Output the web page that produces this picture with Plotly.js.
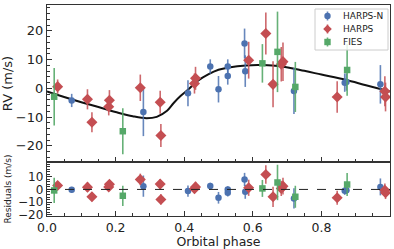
<!DOCTYPE html>
<html>
<head>
<meta charset="utf-8">
<script src="https://cdn.plot.ly/plotly-3.0.1.min.js"></script>
<style>html,body{margin:0;padding:0;background:#fff}#chart{width:394px;height:249px}</style>
</head>
<body>
<div id="chart"></div>
<script>
// HARPS-N
const hnPhase = [0.072, 0.281, 0.411, 0.476, 0.500, 0.527, 0.527, 0.576, 0.578, 0.720, 0.868, 0.873, 0.972];
const hnRV    = [-4.2, -8.2, -1.7, 7.6, -0.3, 7.6, 4.3, 15.6, 6.0, -0.9, 2.0, 2.2, 1.4];
const hnErr   = [2.3, 8.4, 4.5, 2.5, 4.6, 2.5, 3.0, 5.2, 5.5, 8.0, 3.2, 3.0, 6.7];
const hnRes   = [-0.3, 2.6, -1.3, 2.8, -6.6, 0.0, -2.6, 7.9, -1.9, -7.1, -1.1, -0.6, 2.0];
// HARPS
const hPhase = [0.031, 0.118, 0.131, 0.180, 0.182, 0.272, 0.330, 0.332, 0.430, 0.433, 0.588, 0.638, 0.659, 0.683, 0.688, 0.846, 0.985, 0.987];
const hRV    = [0.6, -3.8, -11.8, -6.4, -4.1, 0.2, -4.8, -16.4, 1.7, 3.5, 9.8, 19.1, 1.4, 8.4, 9.3, -3.0, -1.0, -3.0];
const hErr   = [2.5, 3.5, 3.5, 3.0, 3.5, 4.6, 4.0, 4.0, 3.5, 4.0, 6.4, 7.3, 8.0, 6.0, 6.7, 5.5, 5.2, 5.0];
const hRes   = [3.1, 1.8, -5.8, 2.0, 4.0, 7.9, 4.2, -7.9, 0.5, 2.0, 1.3, 11.8, -5.8, 0.8, 2.6, -6.6, -0.6, -2.6];
// FIES
const fPhase = [0.021, 0.221, 0.628, 0.672, 0.724, 0.875];
const fRV    = [-2.9, -14.9, 8.7, 12.7, 0.5, 6.4];
const fErr   = [10.0, 8.0, 6.7, 14.0, 8.7, 9.0];
const fRes   = [-0.8, -5.0, 0.8, 5.5, -5.8, 3.9];
// Keplerian model curve
const modelPhase = [0.00, 0.05, 0.10, 0.15, 0.20, 0.25, 0.29, 0.32, 0.35, 0.37, 0.39, 0.41, 0.44, 0.47, 0.50, 0.53, 0.58, 0.63, 0.68, 0.75, 0.80, 0.87, 0.93, 1.00];
const modelRV    = [-1.1, -3.0, -4.8, -6.5, -8.2, -9.7, -10.4, -9.9, -7.8, -5.0, -2.6, -0.6, 2.7, 4.9, 6.5, 7.3, 8.0, 8.1, 7.7, 6.1, 4.8, 3.0, 1.1, -1.1];
const xTicks = [0, 0.2, 0.4, 0.6, 0.8];
const xTickText = ['0.0', '0.2', '0.4', '0.6', '0.8'];
const resTicks = [-20, -10, 0, 10];
const legendNames = ['HARPS-N', 'HARPS', 'FIES'];

const cBlue = '#4C72B0', cRed = '#C44E52', cGreen = '#55A868';
const eBlue = 'rgba(76,114,176,0.85)', eRed = 'rgba(196,78,82,0.85)', eGreen = 'rgba(85,168,104,0.9)';
function eb(arr, col) { return {type: 'data', array: arr, visible: true, width: 0, thickness: 1.6, color: col}; }

const traces = [
  {x: modelPhase, y: modelRV, mode: 'lines', line: {color: '#111', width: 2, shape: 'spline', smoothing: 1}, showlegend: false, xaxis: 'x', yaxis: 'y', hoverinfo: 'skip'},
  {x: hnPhase, y: hnRV, error_y: eb(hnErr, eBlue), mode: 'markers', name: legendNames[0], showlegend: false, marker: {color: cBlue, symbol: 'circle', size: 6.5}, xaxis: 'x', yaxis: 'y'},
  {x: hPhase, y: hRV, error_y: eb(hErr, eRed), mode: 'markers', name: legendNames[1], showlegend: false, marker: {color: cRed, symbol: 'diamond', size: 8.5}, xaxis: 'x', yaxis: 'y'},
  {x: fPhase, y: fRV, error_y: eb(fErr, eGreen), mode: 'markers', name: legendNames[2], showlegend: false, marker: {color: cGreen, symbol: 'square', size: 6.5}, xaxis: 'x', yaxis: 'y'},
  {x: hnPhase, y: hnRes, error_y: eb(hnErr, eBlue), mode: 'markers', showlegend: false, marker: {color: cBlue, symbol: 'circle', size: 6.5}, xaxis: 'x2', yaxis: 'y2'},
  {x: hPhase, y: hRes, error_y: eb(hErr, eRed), mode: 'markers', showlegend: false, marker: {color: cRed, symbol: 'diamond', size: 8.5}, xaxis: 'x2', yaxis: 'y2'},
  {x: fPhase, y: fRes, error_y: eb(fErr, eGreen), mode: 'markers', showlegend: false, marker: {color: cGreen, symbol: 'square', size: 6.5}, xaxis: 'x2', yaxis: 'y2'}
];

// compact legend box (pixel → paper conversion for the plot area 47..390 x 5..216)
const L = 47, R = 390, T = 5, B = 216;
const px = v => (v - L) / (R - L);
const py = v => (B - v) / (B - T);
const legRows = [16, 29, 42];
const legMarkX = 327.5, legTextX = 341;
const legCols = [cBlue, cRed, cGreen];
const legECols = [eBlue, eRed, eGreen];

const shapes = [
  {type: 'line', xref: 'x2 domain', yref: 'y2', x0: 0, x1: 1, y0: 0, y1: 0, line: {color: '#222', width: 1, dash: 'dash'}},
  {type: 'rect', xref: 'paper', yref: 'paper', x0: px(315), x1: px(388), y0: py(9), y1: py(50), fillcolor: 'rgba(255,255,255,0.85)', line: {color: '#cccccc', width: 1}}
];
const annotations = [];
legRows.forEach((ry, i) => {
  const base = {xref: 'paper', yref: 'paper', xsizemode: 'pixel', ysizemode: 'pixel', xanchor: px(legMarkX), yanchor: py(ry)};
  shapes.push(Object.assign({}, base, {type: 'line', x0: 0, x1: 0, y0: -4.5, y1: 4.5, line: {color: legECols[i], width: 1.6}}));
  if (i === 0) shapes.push(Object.assign({}, base, {type: 'circle', x0: -3.2, x1: 3.2, y0: -3.2, y1: 3.2, fillcolor: legCols[i], line: {width: 0}}));
  if (i === 1) shapes.push(Object.assign({}, base, {type: 'path', path: 'M0,4.3 L4.3,0 L0,-4.3 L-4.3,0 Z', fillcolor: legCols[i], line: {width: 0}}));
  if (i === 2) shapes.push(Object.assign({}, base, {type: 'rect', x0: -3.2, x1: 3.2, y0: -3.2, y1: 3.2, fillcolor: legCols[i], line: {width: 0}}));
  annotations.push({xref: 'paper', yref: 'paper', x: px(legTextX), y: py(ry), xanchor: 'left', yanchor: 'middle', showarrow: false, text: legendNames[i], font: {size: 9, family: 'DejaVu Sans', color: '#222'}});
});

const lc = '#333';
const common = {showline: true, linecolor: lc, linewidth: 1.2, mirror: true, ticks: 'inside', ticklen: 5, tickwidth: 1, tickcolor: lc, showgrid: false, zeroline: false};
const layout = {
  width: 394, height: 249,
  margin: {l: 47, r: 4, t: 5, b: 33},
  paper_bgcolor: '#fff', plot_bgcolor: '#fff',
  font: {family: 'DejaVu Sans', size: 13, color: '#222'},
  showlegend: false,
  xaxis: Object.assign({}, common, {domain: [0, 1], anchor: 'y', range: [0, 1], tickvals: xTicks, showticklabels: false, minor: {ticks: 'inside', dtick: 0.05, ticklen: 3, tickcolor: lc}}),
  yaxis: Object.assign({}, common, {domain: [0.256, 1], anchor: 'x', range: [-25.6, 29], dtick: 10, tick0: 0, minor: {ticks: 'inside', dtick: 2, ticklen: 3, tickcolor: lc}, title: {text: 'RV (m/s)', font: {size: 13}, standoff: 6}}),
  xaxis2: Object.assign({}, common, {domain: [0, 1], anchor: 'y2', range: [0, 1], tickvals: xTicks, ticktext: xTickText, tickfont: {size: 12.5}, minor: {ticks: 'inside', dtick: 0.05, ticklen: 3, tickcolor: lc}, title: {text: 'Orbital phase', font: {size: 12.5}, standoff: 3}}),
  yaxis2: Object.assign({}, common, {domain: [0, 0.256], anchor: 'x2', range: [-21, 21.7], tickvals: resTicks, tickfont: {size: 12}, minor: {ticks: 'inside', dtick: 2, ticklen: 2.5, tickcolor: lc}, title: {text: 'Residuals (m/s)', font: {size: 9}, standoff: 5}}),
  shapes: shapes,
  annotations: annotations
};
Plotly.newPlot('chart', traces, layout, {displayModeBar: false, staticPlot: true});
</script>
</body>
</html>
